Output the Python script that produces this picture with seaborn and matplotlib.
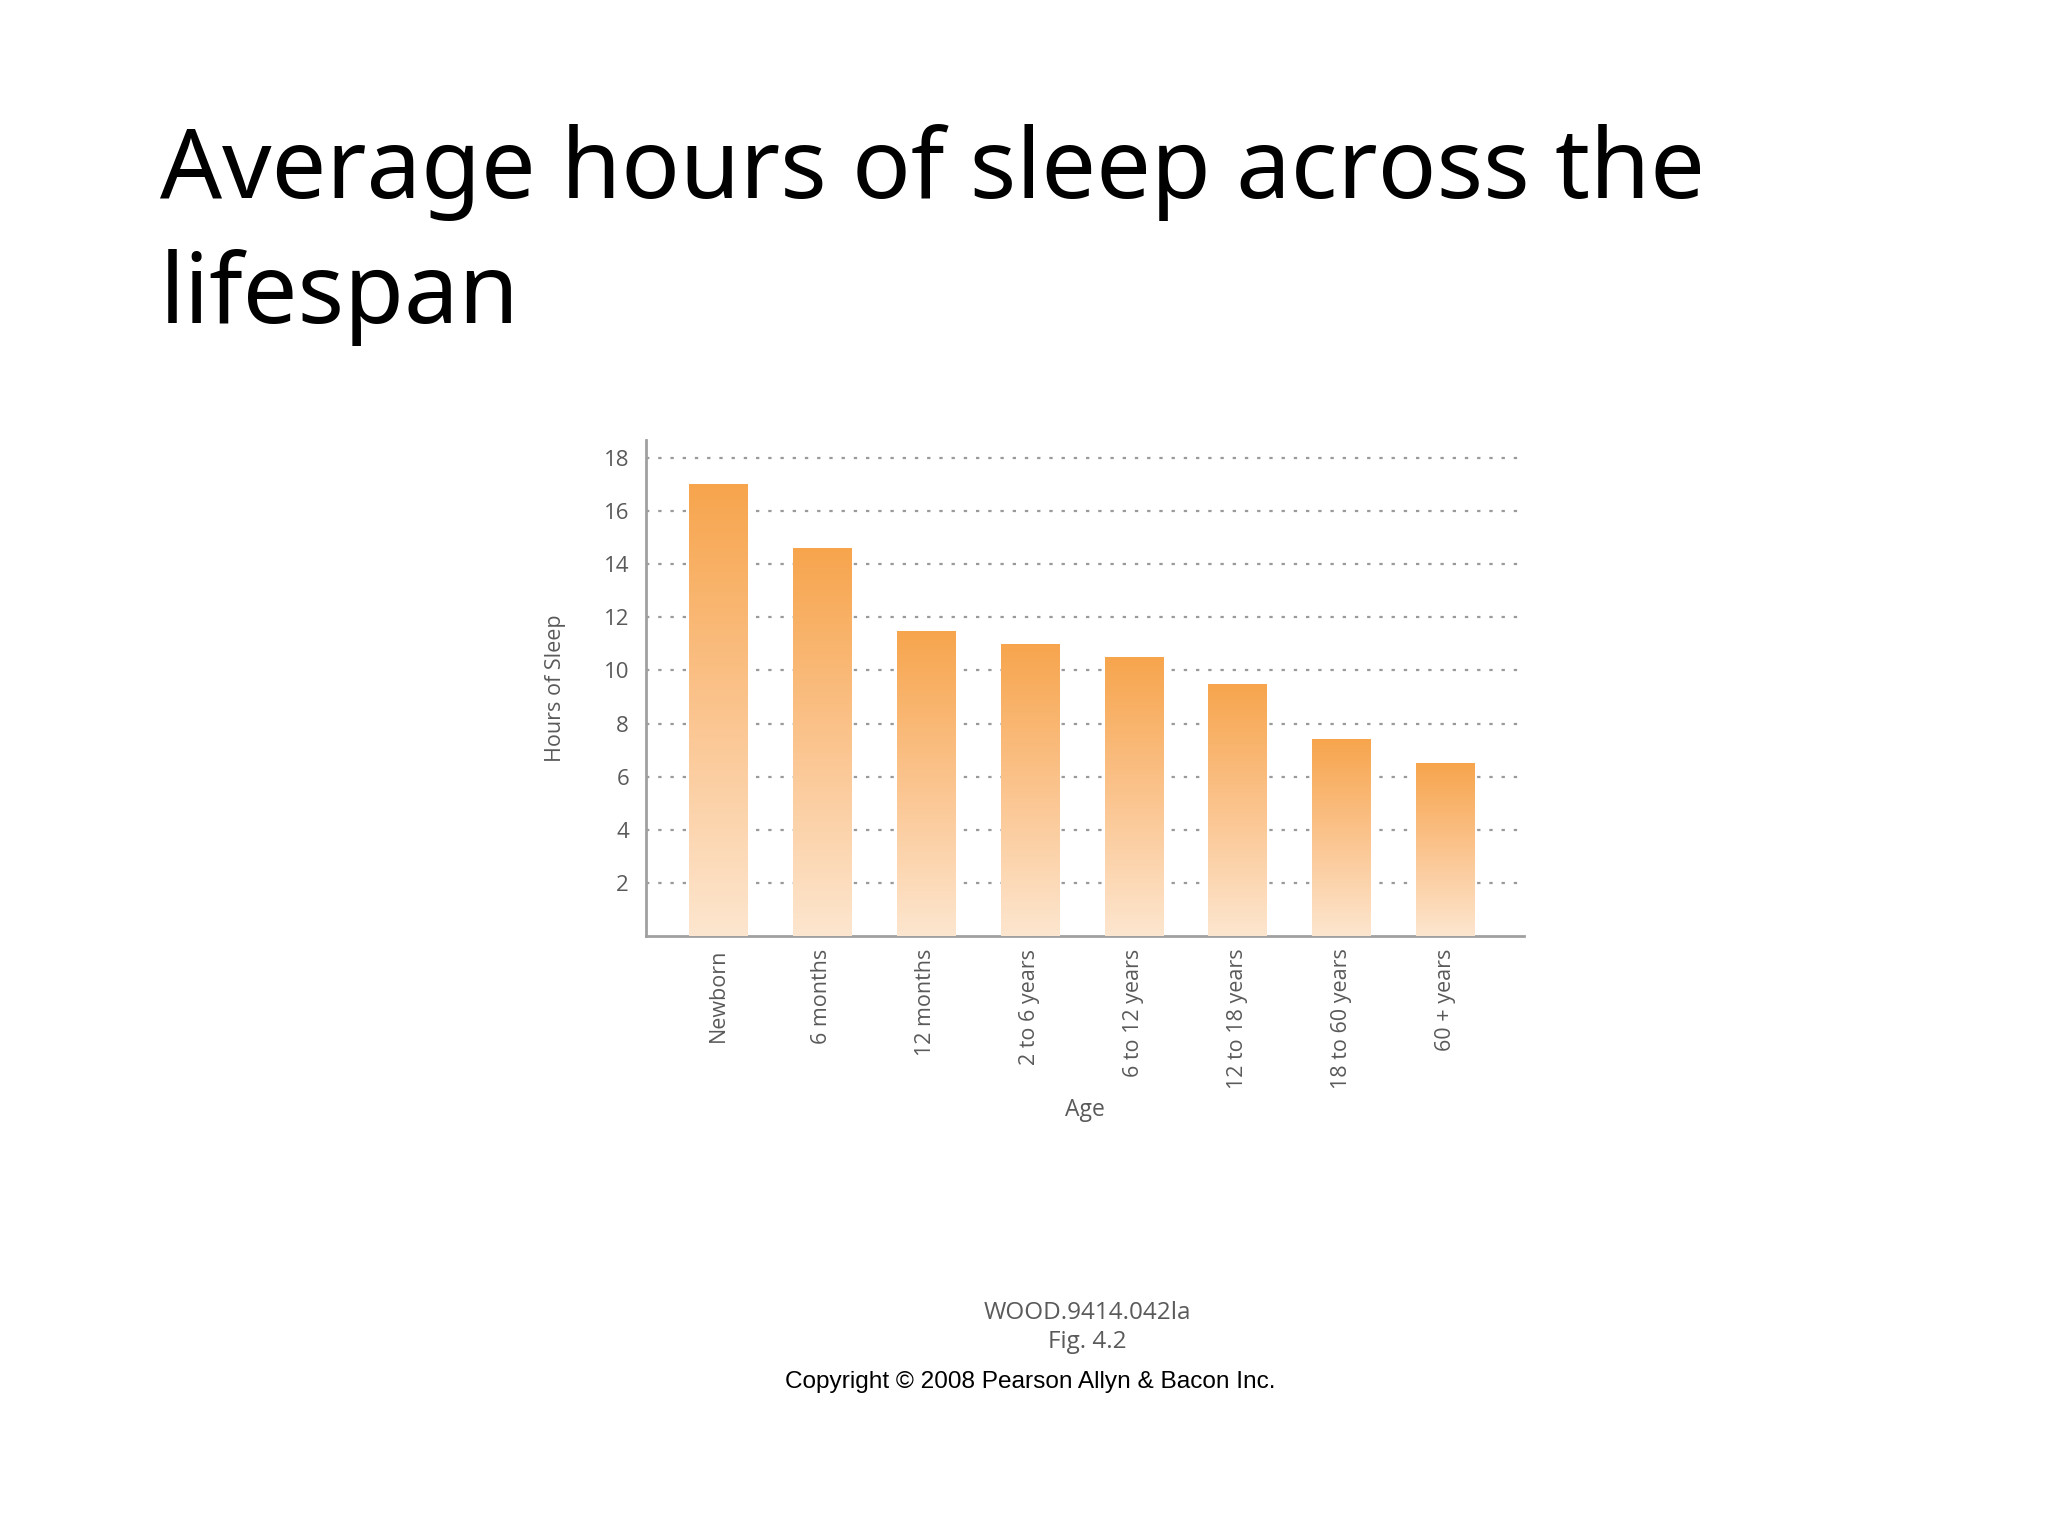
import numpy as np
import pandas as pd
import matplotlib
matplotlib.use('Agg')
import matplotlib.pyplot as plt
from matplotlib.colors import LinearSegmentedColormap
import seaborn as sns

# Dados do gráfico
ages = ['Newborn', '6 months', '12 months', '2 to 6 years', '6 to 12 years',
        '12 to 18 years', '18 to 60 years', '60 + years']
hours = [17.0, 14.6, 11.5, 11.0, 10.5, 9.5, 7.4, 6.5]
yticks = [2, 4, 6, 8, 10, 12, 14, 16, 18]

df = pd.DataFrame({'Age': ages, 'Hours': hours})

sns.set_theme(style='white')
plt.rcParams['font.family'] = ['Open Sans', 'DejaVu Sans']

fig = plt.figure(figsize=(20.48, 15.36), dpi=100)
ax = fig.add_axes([0.3153, 0.3906, 0.4288, 0.3229])

gray = '#5a5a5a'
sns.barplot(data=df, x='Age', y='Hours', ax=ax, width=0.56,
            color='#F7A54D', saturation=1, zorder=2)

# Gradiente em cada barra (escuro em cima, claro embaixo)
cmap = LinearSegmentedColormap.from_list('sleep', ['#FDE6CF', '#FBC48E', '#F7A54D'])
grad = np.linspace(0, 1, 256).reshape(-1, 1)
for bar in ax.patches:
    x0, w, h = bar.get_x(), bar.get_width(), bar.get_height()
    bar.set_facecolor('none')
    bar.set_edgecolor('none')
    im = ax.imshow(grad, cmap=cmap, aspect='auto', origin='lower',
                   extent=[x0, x0 + w, 0, h], zorder=3)
    im.set_clip_path(bar)

ax.set_xlim(-0.695, 7.755)
ax.set_ylim(0, 18.67)
ax.set_yticks(yticks)
ax.yaxis.grid(True, linestyle=(0, (1.5, 4)), color='#9a9a9a', linewidth=1.6, zorder=0)
ax.set_axisbelow(True)

for s in ['top', 'right']:
    ax.spines[s].set_visible(False)
for s in ['left', 'bottom']:
    ax.spines[s].set_color('#a0a0a0')
    ax.spines[s].set_linewidth(2)

ax.tick_params(axis='y', length=0, labelsize=16, colors=gray, pad=12)
ax.tick_params(axis='x', length=0, labelsize=15.5, colors=gray, labelrotation=90, pad=9)
ax.set_xlabel('Age', fontsize=16.5, color=gray, labelpad=6)
ax.set_ylabel('Hours of Sleep', fontsize=15.5, color=gray, labelpad=27)

# Título (duas linhas) e rodapé
title_font = ['Noto Sans', 'DejaVu Sans']
fig.text(0.078, 0.871, 'Average hours of sleep across the', fontsize=70,
         family=title_font, color='black', ha='left', va='baseline')
fig.text(0.078, 0.790, 'lifespan', fontsize=70,
         family=title_font, color='black', ha='left', va='baseline')
fig.text(0.531, 0.145, 'WOOD.9414.042la', fontsize=17.5, color=gray, ha='center', va='center')
fig.text(0.531, 0.126, 'Fig. 4.2', fontsize=17.5, color=gray, ha='center', va='center')
fig.text(0.503, 0.100, 'Copyright \u00a9 2008 Pearson Allyn & Bacon Inc.', fontsize=17.6,
         family=['Liberation Sans', 'DejaVu Sans'], color='black', ha='center', va='center')

plt.savefig('out.png', dpi=100)
